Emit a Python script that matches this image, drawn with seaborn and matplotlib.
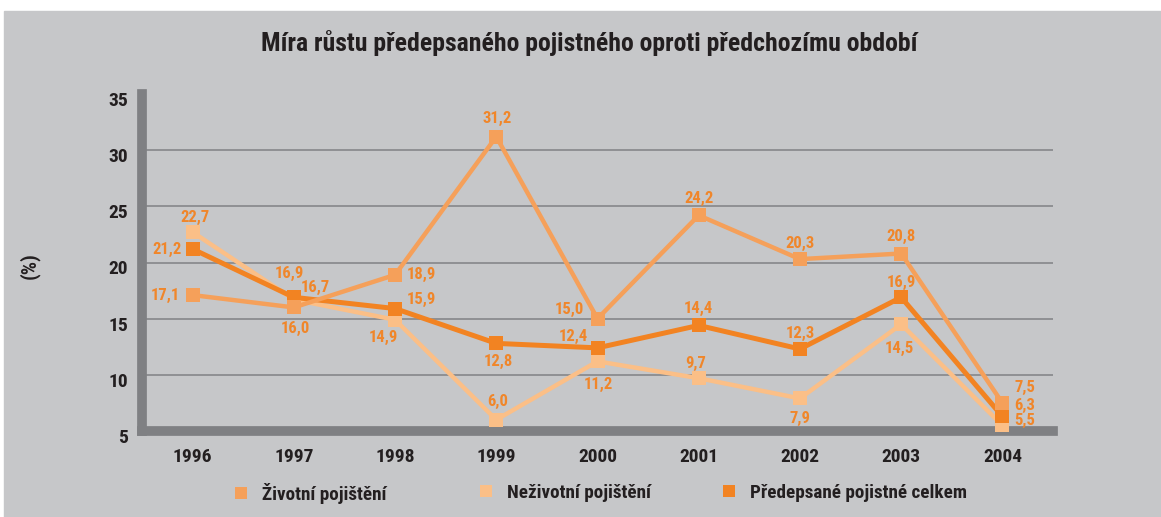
import matplotlib
matplotlib.use("Agg")
import matplotlib.pyplot as plt
import matplotlib.transforms as mtransforms
from matplotlib import font_manager
from matplotlib.lines import Line2D
from matplotlib.patches import Rectangle
import pandas as pd
import seaborn as sns

# Data
years = [1996, 1997, 1998, 1999, 2000, 2001, 2002, 2003, 2004]
zivotni = [17.1, 16.0, 18.9, 31.2, 15.0, 24.2, 20.3, 20.8, 7.5]
nezivotni = [22.7, 16.7, 14.9, 6.0, 11.2, 9.7, 7.9, 14.5, 5.5]
celkem = [21.2, 16.9, 15.9, 12.8, 12.4, 14.4, 12.3, 16.9, 6.3]
series_names = ["Životní pojištění", "Neživotní pojištění", "Předepsané pojistné celkem"]

# label offsets in pixels (dx, dy, ha)
off_ziv = [(-13, 0, "right"), (2, -21, "center"), (12, 0, "left"), (1, 18, "center"),
           (-13, 9, "right"), (0, 17, "center"), (0, 16, "center"), (0, 17, "center"),
           (12, 15, "left")]
off_nez = [(2, 15, "center"), (7, 12, "left"), (-12, -18, "center"), (1, 18, "center"),
           (1, -23, "center"), (-3, 15, "center"), (0, -20, "center"), (-2, -24, "center"),
           (12, 5, "left")]
off_cel = [(-11, 0, "right"), (-4, 24, "center"), (12, 9, "left"), (2, -18, "center"),
           (-10, 11, "right"), (0, 17, "center"), (0, 16, "center"), (0, 15, "center"),
           (12, 11, "left")]

BG = "#c6c7c9"
DARK = "#231f20"
C_ZIV = "#f5a05a"
C_NEZ = "#fbbf87"
C_CEL = "#f28322"
C_LBL = "#f0862a"

sns.set_theme(style="white")

# pick a narrow font if one is installed
installed = {f.name for f in font_manager.fontManager.ttflist}
narrow = None
for cand in ["Liberation Sans Narrow", "Roboto Condensed", "Open Sans Condensed",
             "DejaVu Sans Condensed", "Noto Sans Condensed"]:
    if cand in installed:
        narrow = cand
        break
if narrow:
    plt.rcParams["font.family"] = [narrow, "DejaVu Sans"]
    k = 1.0
else:
    plt.rcParams["font.family"] = ["DejaVu Sans"]
    k = 0.85
plt.rcParams["font.weight"] = "bold"

df = pd.DataFrame({"year": years, series_names[0]: zivotni,
                   series_names[1]: nezivotni, series_names[2]: celkem})

fig = plt.figure(figsize=(11.61, 5.17), dpi=100)
fig.patch.set_facecolor("white")
fig.patches.append(Rectangle((4 / 1161, 0), 1, (517 - 11) / 517,
                             transform=fig.transFigure, color=BG, zorder=-10))
ax = fig.add_axes([142 / 1161, 86 / 517, 911 / 1161, 337 / 517])
ax.set_facecolor(BG)

styles = [(series_names[1], C_NEZ, 3.2, 2, off_nez),
          (series_names[2], C_CEL, 3.6, 3, off_cel),
          (series_names[0], C_ZIV, 3.2, 4, off_ziv)]
for name, col, lw, z, offs in styles:
    sns.lineplot(data=df, x="year", y=name, ax=ax, color=col, linewidth=lw,
                 marker="s", markersize=10, markeredgewidth=0, zorder=z)
    for x, v, (dx, dy, ha) in zip(df["year"], df[name], offs):
        ax.annotate(f"{v:.1f}".replace(".", ","), (x, v), xytext=(dx, dy),
                    textcoords="offset pixels", ha=ha, va="center",
                    color=C_LBL, fontsize=12 * k, fontweight="bold", zorder=6)

ax.set_xlim(1995.5, 2004.5)
ax.set_ylim(5, 35)
ax.set_xticks(years)
ax.set_yticks(range(5, 36, 5))
ax.set_xlabel("")
ax.set_ylabel("(%)", fontsize=15 * k, fontweight="bold", color=DARK)
ax.yaxis.set_label_coords(-0.112, 0.49)

ax.grid(axis="y", color="#8b8c8f", linewidth=1.3, zorder=0)
ax.grid(axis="x", visible=False)
ax.yaxis.get_gridlines()[-1].set_visible(False)
ax.set_axisbelow(True)

for side in ["top", "right"]:
    ax.spines[side].set_visible(False)
for side in ["left", "bottom"]:
    ax.spines[side].set_color("#7f8083")
    ax.spines[side].set_linewidth(7)
    ax.spines[side].set_zorder(1)

ax.tick_params(axis="both", length=0, labelsize=14 * k, labelcolor=DARK)
ax.tick_params(axis="y", pad=10)
ax.tick_params(axis="x", pad=12)
shift = mtransforms.ScaledTranslation(0, -5 / 100, fig.dpi_scale_trans)
for lbl in ax.get_yticklabels():
    lbl.set_transform(lbl.get_transform() + shift)
    lbl.set_fontweight("bold")
for lbl in ax.get_xticklabels():
    lbl.set_fontweight("bold")

fig.text(589 / 1161, 1 - 43 / 517,
         "Míra růstu předepsaného pojistného oproti předchozímu období",
         ha="center", va="center", fontsize=18.5 * k, fontweight="bold", color=DARK)

# legend, one entry per block
leg_x = [232, 477, 720]
for name, col, lx in zip(series_names, [C_ZIV, C_NEZ, C_CEL], leg_x):
    h = Line2D([], [], marker="s", color=col, linestyle="none",
               markersize=8, markeredgewidth=0)
    leg = fig.legend([h], [name], loc="center left",
                     bbox_to_anchor=(lx / 1161, 1 - 493 / 517),
                     frameon=False, handlelength=0.9, handletextpad=0.65,
                     borderpad=0, borderaxespad=0,
                     prop={"size": 13.8 * k, "weight": "bold"})
    for t in leg.get_texts():
        t.set_color(DARK)

fig.savefig("out.png", dpi=100, facecolor=fig.get_facecolor())
